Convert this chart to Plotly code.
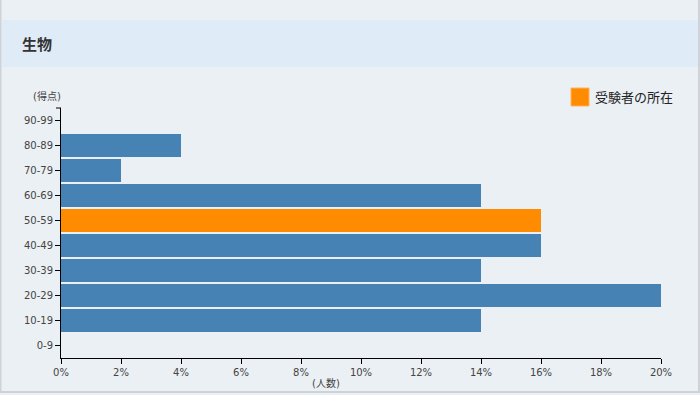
import plotly.graph_objects as go

categories = ["0-9", "10-19", "20-29", "30-39", "40-49", "50-59", "60-69", "70-79", "80-89", "90-99"]
values = [0, 14, 20, 14, 16, 16, 14, 2, 4, 0]
highlight = "50-59"
x_ticks = [0, 2, 4, 6, 8, 10, 12, 14, 16, 18, 20]
x_tick_labels = [f"{v}%" for v in x_ticks]

title_text = "生物"
y_title = "(得点)"
x_title = "(人数)"
legend_text = "受験者の所在"

BLUE = "#4682b4"
ORANGE = "#ff8c00"
BG = "#ebf0f5"
HEADER = "#dfebf7"
FONT = "DejaVu Sans, Noto Sans CJK JP"
CJK = "Noto Sans CJK JP"

W, H = 700, 395
L, R, T, B = 61, 39, 108, 37
pw, ph = W - L - R, H - T - B

def px(xp):
    return (xp - L) / pw

def py(yp):
    return (H - B - yp) / ph

colors = [ORANGE if c == highlight else BLUE for c in categories]

fig = go.Figure()
fig.add_trace(go.Bar(
    y=categories, x=values, orientation="h",
    marker=dict(color=colors, line=dict(width=0)),
    showlegend=False, hoverinfo="skip",
))

shapes = [
    # container border
    dict(type="rect", xref="paper", yref="paper", x0=px(0.5), x1=px(699), y0=py(392), y1=py(-5),
         line=dict(color="#cfd3d7", width=2), fillcolor="rgba(0,0,0,0)", layer="below"),
    # header band
    dict(type="rect", xref="paper", yref="paper", x0=px(2), x1=px(698), y0=py(67), y1=py(20),
         line=dict(width=0), fillcolor=HEADER, layer="below"),
    # outer tick at top of y axis
    dict(type="line", xref="paper", yref="paper", x0=px(56), x1=px(61), y0=1, y1=1,
         line=dict(color="black", width=1)),
    # legend swatch
    dict(type="rect", xref="paper", yref="paper", x0=px(571), x1=px(589), y0=py(106), y1=py(88),
         line=dict(color="#ffb15a", width=1), fillcolor=ORANGE),
]

annotations = [
    dict(text=f"<b>{title_text}</b>", xref="paper", yref="paper", x=px(20), y=py(43),
         xanchor="left", yanchor="middle", showarrow=False, font=dict(size=15, color="#333333", family=CJK)),
    dict(text=y_title, xref="paper", yref="paper", x=px(47), y=py(97),
         xanchor="center", yanchor="middle", showarrow=False, font=dict(size=10, color="#444444", family=FONT)),
    dict(text=x_title, xref="paper", yref="paper", x=px(326), y=py(383),
         xanchor="center", yanchor="middle", showarrow=False, font=dict(size=10, color="#444444", family=FONT)),
    dict(text=legend_text, xref="paper", yref="paper", x=px(593), y=py(97),
         xanchor="left", yanchor="middle", showarrow=False, font=dict(size=13, color="#222222", family=CJK)),
]

fig.update_layout(
    width=W, height=H,
    margin=dict(l=L, r=R, t=T, b=B),
    paper_bgcolor=BG, plot_bgcolor=BG,
    bargap=0.08,
    font=dict(family=FONT, size=10, color="#444444"),
    shapes=shapes, annotations=annotations,
    xaxis=dict(range=[0, 20], tickvals=x_ticks, ticktext=x_tick_labels, showgrid=False, zeroline=False,
               showline=True, linecolor="black", linewidth=1, ticks="outside", ticklen=5,
               tickcolor="black", tickfont=dict(size=10, color="#444444"), fixedrange=True),
    yaxis=dict(categoryorder="array", categoryarray=categories, range=[-0.5, 9.5], showgrid=False,
               zeroline=False, showline=True, linecolor="black", linewidth=1, ticks="outside",
               ticklen=5, tickcolor="black", tickfont=dict(size=10, color="#444444"), fixedrange=True),
)

fig.write_html("out.html", config={"displayModeBar": False},
               post_script="document.body.style.margin='0';document.body.style.overflow='hidden';")
